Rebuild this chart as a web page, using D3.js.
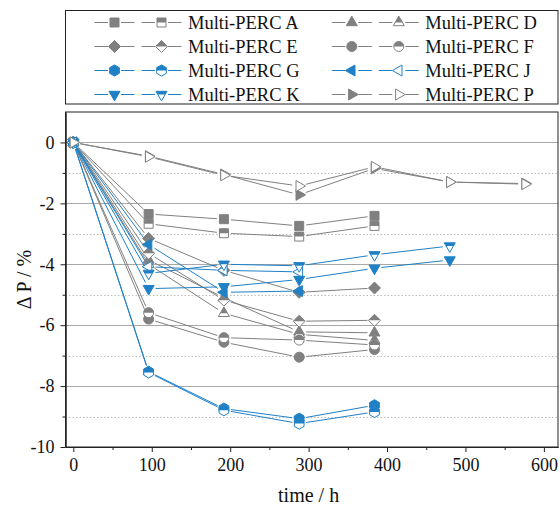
<!DOCTYPE html>
<html>
<head>
<meta charset="utf-8">
<script src="https://cdn.jsdelivr.net/npm/d3@7"></script>
<style>
  body { margin: 0; background: #fff; }
</style>
</head>
<body>
<div id="chart"></div>
<script>
// measurement times (h)
var times = [0, 96, 192, 288, 384, 480, 576];

// delta P (%) per sample, filled marker = first sample, half marker = second sample
var aFull = [0, -2.35, -2.52, -2.74, -2.41];
var aOpen = [0, -2.67, -2.98, -3.09, -2.74];
var dFull = [0, -3.86, -5.10, -6.22, -6.25];
var dOpen = [0, -4.00, -5.61, -6.30, -6.50];
var eFull = [0, -3.15, -4.20, -4.92, -4.78];
var eOpen = [0, -3.64, -5.18, -5.87, -5.84];
var fFull = [0, -5.80, -6.56, -7.05, -6.80];
var fOpen = [0, -5.59, -6.41, -6.49, -6.65];
var gFull = [0, -7.53, -8.74, -9.07, -8.63];
var gOpen = [0, -7.55, -8.79, -9.23, -8.85];
var jFull = [0, -3.35, -4.92, -4.88];
var jOpen = [0, -4.08, -4.20, -4.25];
var kFull = [0, -4.80, -4.74, -4.50, -4.13, -3.86];
var kOpen = [0, -4.30, -4.00, -4.05, -3.69, -3.40];
var pFull = [0, -0.45, -1.05, -1.72, -0.85, -1.30, -1.35];
var pOpen = [0, -0.47, -1.08, -1.43, -0.80, -1.30, -1.37];

var seriesNames = ["Multi-PERC A", "Multi-PERC D", "Multi-PERC E", "Multi-PERC F",
  "Multi-PERC G", "Multi-PERC J", "Multi-PERC K", "Multi-PERC P"];

var xTicks = [0, 100, 200, 300, 400, 500, 600];
var yTicks = [0, -2, -4, -6, -8, -10];

// styling (kept apart from the values)
var gray = "#808080";
var blue = "#1f80c6";
var serif = "Liberation Serif, Times New Roman, serif";
var styles = [
  { shape: "square", color: gray },
  { shape: "up", color: gray },
  { shape: "diamond", color: gray },
  { shape: "circle", color: gray },
  { shape: "hexagon", color: blue },
  { shape: "left", color: blue },
  { shape: "down", color: blue },
  { shape: "right", color: gray }
];

var series = [
  [aFull, aOpen], [dFull, dOpen], [eFull, eOpen], [fFull, fOpen],
  [gFull, gOpen], [jFull, jOpen], [kFull, kOpen], [pFull, pOpen]
].map(function (pair, i) {
  return { name: seriesNames[i], full: pair[0], open: pair[1], style: styles[i] };
});

var svgWidth = 560;
var svgHeight = 506;
var plot = { left: 65.5, right: 558, top: 112, bottom: 447 };

var svg = d3.select("#chart")
  .append("svg")
  .attr("width", svgWidth)
  .attr("height", svgHeight);

var xScale = d3.scaleLinear().domain([-10, 618]).range([plot.left, plot.right]);
var yScale = d3.scaleLinear().domain([-10, 1]).range([plot.bottom, plot.top]);

// clip used for the half filled markers (top half)
svg.append("defs").append("clipPath")
  .attr("id", "topHalf")
  .append("rect")
  .attr("x", -20).attr("y", -20)
  .attr("width", 40).attr("height", 20);

// marker outlines in local coordinates
function poly(pts) {
  return "M" + pts.map(function (p) { return p[0] + "," + p[1]; }).join("L") + "Z";
}
function markerPath(shape) {
  var w = 11, h = 9.6;
  switch (shape) {
    case "square": return poly([[-4.5, -4.5], [4.5, -4.5], [4.5, 4.5], [-4.5, 4.5]]);
    case "diamond": return poly([[0, -6], [6, 0], [0, 6], [-6, 0]]);
    case "circle":
      var r = 5;
      return "M" + r + ",0A" + r + "," + r + " 0 1,1 " + (-r) + ",0A" + r + "," + r + " 0 1,1 " + r + ",0Z";
    case "hexagon":
      return poly(d3.range(6).map(function (k) {
        var a = (-90 + 60 * k) * Math.PI / 180;
        return [5.6 * Math.cos(a), 5.6 * Math.sin(a)];
      }));
    case "up": return poly([[0, -h * 2 / 3], [w / 2, h / 3], [-w / 2, h / 3]]);
    case "down": return poly([[0, h * 2 / 3], [w / 2, -h / 3], [-w / 2, -h / 3]]);
    case "left": return poly([[-h * 2 / 3, 0], [h / 3, -w / 2], [h / 3, w / 2]]);
    case "right": return poly([[h * 2 / 3, 0], [-h / 3, -w / 2], [-h / 3, w / 2]]);
  }
}

function drawMarker(g, x, y, style, open) {
  var m = g.append("g").attr("transform", "translate(" + x + "," + y + ")");
  var d = markerPath(style.shape);
  if (!open) {
    m.append("path").attr("d", d).attr("fill", style.color)
      .attr("stroke", style.color).attr("stroke-width", 1);
    return;
  }
  m.append("path").attr("d", d).attr("fill", "#fff");
  if (style.shape !== "left" && style.shape !== "right") {
    m.append("path").attr("d", d).attr("fill", style.color).attr("clip-path", "url(#topHalf)");
  }
  m.append("path").attr("d", d).attr("fill", "none")
    .attr("stroke", style.color).attr("stroke-width", 1);
}

// line between two points, stopped short of the markers
function gapLine(g, x1, y1, x2, y2, gap, color) {
  var dx = x2 - x1, dy = y2 - y1;
  var len = Math.sqrt(dx * dx + dy * dy);
  if (len <= gap * 2) return;
  var ux = dx / len, uy = dy / len;
  g.append("line")
    .attr("x1", x1 + ux * gap).attr("y1", y1 + uy * gap)
    .attr("x2", x2 - ux * gap).attr("y2", y2 - uy * gap)
    .attr("stroke", color).attr("stroke-width", 1);
}

// gridlines
var grid = svg.append("g");
[0, -2, -4, -6, -8].forEach(function (v) {
  grid.append("line")
    .attr("x1", plot.left).attr("x2", plot.right)
    .attr("y1", Math.round(yScale(v)) + 0.5).attr("y2", Math.round(yScale(v)) + 0.5)
    .attr("stroke", "#a8a8a8").attr("stroke-width", 1);
});
[-1, -3, -5, -7, -9].forEach(function (v) {
  grid.append("line")
    .attr("x1", plot.left).attr("x2", plot.right)
    .attr("y1", Math.round(yScale(v)) + 0.5).attr("y2", Math.round(yScale(v)) + 0.5)
    .attr("stroke", "#bdbdbd").attr("stroke-width", 1)
    .attr("stroke-dasharray", "1.5,2");
});

// data
var dataLayer = svg.append("g");
series.forEach(function (s) {
  [s.full, s.open].forEach(function (vals) {
    var pts = vals.map(function (v, i) { return [xScale(times[i]), yScale(v)]; });
    for (var i = 1; i < pts.length; i++) {
      gapLine(dataLayer, pts[i - 1][0], pts[i - 1][1], pts[i][0], pts[i][1], 7, s.style.color);
    }
  });
});
series.forEach(function (s) {
  [s.full, s.open].forEach(function (vals, k) {
    vals.forEach(function (v, i) {
      drawMarker(dataLayer, xScale(times[i]), yScale(v), s.style, k === 1);
    });
  });
});

// frame
svg.append("rect")
  .attr("x", plot.left).attr("y", plot.top)
  .attr("width", plot.right - plot.left).attr("height", plot.bottom - plot.top)
  .attr("fill", "none").attr("stroke", "#222").attr("stroke-width", 1);

// axes
svg.append("g")
  .attr("transform", "translate(0," + plot.bottom + ")")
  .call(d3.axisBottom(xScale).tickValues(xTicks).tickSize(5).tickSizeOuter(0).tickPadding(6.5));
svg.append("g")
  .attr("transform", "translate(0," + plot.bottom + ")")
  .call(d3.axisBottom(xScale).tickValues([50, 150, 250, 350, 450, 550]).tickSize(3)
    .tickSizeOuter(0).tickFormat(""));

svg.append("g")
  .attr("transform", "translate(" + plot.left + ",0)")
  .call(d3.axisLeft(yScale).tickValues(yTicks).tickSize(5).tickSizeOuter(0).tickPadding(6)
    .tickFormat(function (d) { return String(d); }));
svg.append("g")
  .attr("transform", "translate(" + plot.left + ",0)")
  .call(d3.axisLeft(yScale).tickValues([-1, -3, -5, -7, -9]).tickSize(3)
    .tickSizeOuter(0).tickFormat(""));

svg.selectAll(".domain").attr("stroke", "#222");
svg.selectAll(".tick line").attr("stroke", "#222");
svg.selectAll(".tick text")
  .attr("font-size", "18px")
  .attr("fill", "#111");

// axis titles
svg.append("text")
  .attr("x", (xScale(0) + xScale(600)) / 2)
  .attr("y", 502)
  .attr("text-anchor", "middle")
  .attr("font-size", "20px")
  .attr("fill", "#111")
  .text("time / h");

svg.append("text")
  .attr("transform", "translate(31," + ((plot.top + plot.bottom) / 2) + ") rotate(-90)")
  .attr("text-anchor", "middle")
  .attr("font-size", "20px")
  .attr("fill", "#111")
  .text("Δ P / %");

// legend
var legend = svg.append("g");
legend.append("rect")
  .attr("x", 65.5).attr("y", 10.5)
  .attr("width", 492.5).attr("height", 93.5)
  .attr("fill", "#fff").attr("stroke", "#222").attr("stroke-width", 1);

series.forEach(function (s, i) {
  var col = i % 2, row = Math.floor(i / 2);
  var cy = 22.5 + row * 24;
  var x0 = 114.5 + col * 237.3;
  [x0, x0 + 47].forEach(function (mx, k) {
    legend.append("line")
      .attr("x1", mx - 20).attr("x2", mx + 20)
      .attr("y1", cy).attr("y2", cy)
      .attr("stroke", s.style.color).attr("stroke-width", 1);
    legend.append("rect")
      .attr("x", mx - 6.5).attr("y", cy - 7).attr("width", 13).attr("height", 14)
      .attr("fill", "#fff");
    drawMarker(legend, mx, cy, s.style, k === 1);
  });
  legend.append("text")
    .attr("x", x0 + 73.5)
    .attr("y", cy + 6.2)
    .attr("font-size", "18.5px")
    .attr("fill", "#111")
    .text(s.name);
});

// every label in the serif face
svg.selectAll("text").attr("font-family", serif);
</script>
</body>
</html>
